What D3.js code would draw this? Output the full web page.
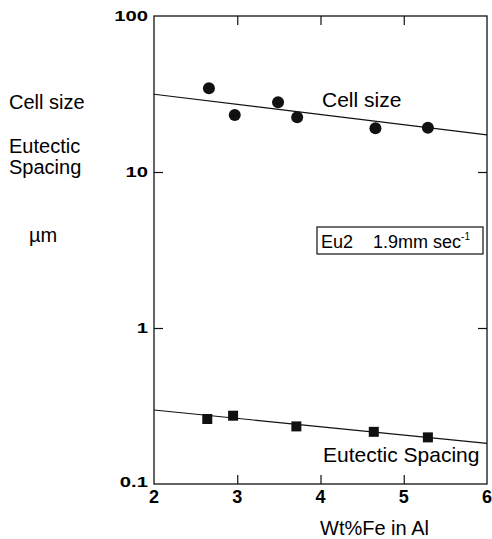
<!DOCTYPE html>
<html>
<head>
<meta charset="utf-8">
<script src="https://cdn.jsdelivr.net/npm/d3@7"></script>
<style>
  body { margin: 0; background: #fff; }
  svg { font-family: "Liberation Sans", Arial, sans-serif; }
</style>
</head>
<body>
<div id="chart"></div>
<script>
// data
const cellFe = [2.66, 2.97, 3.49, 3.72, 4.66, 5.29];
const cellSize = [34.4, 23.2, 28.0, 22.4, 19.1, 19.2];
const cellFit = [[2, 31.5], [6, 17.3]];

const eutFe = [2.64, 2.95, 3.71, 4.64, 5.29];
const eutSpacing = [0.261, 0.274, 0.234, 0.216, 0.199];
const eutFit = [[2, 0.298], [6, 0.182]];

const xTicks = [2, 3, 4, 5, 6];
const yTicks = [0.1, 1, 10, 100];
const yTickLabels = ["0.1", "1", "10", "100"];

// dimensions
const W = 492, H = 539;
const plot = {left: 154, right: 487, top: 16, bottom: 484};

const svg = d3.select("#chart").append("svg")
  .attr("width", W)
  .attr("height", H);

const x = d3.scaleLinear().domain([2, 6]).range([plot.left, plot.right]);
const y = d3.scaleLog().domain([0.1, 100]).range([plot.bottom, plot.top]);

// frame
svg.append("rect")
  .attr("x", plot.left).attr("y", plot.top)
  .attr("width", plot.right - plot.left)
  .attr("height", plot.bottom - plot.top)
  .attr("fill", "none").attr("stroke", "#111").attr("stroke-width", 1.3);

// inward ticks (bottom + top)
const tickLen = 9;
svg.append("g")
  .attr("transform", `translate(0,${plot.bottom})`)
  .call(d3.axisTop(x).tickValues([3, 4, 5]).tickSize(tickLen).tickFormat(""))
  .call(g => g.select(".domain").remove());
svg.append("g")
  .attr("transform", `translate(0,${plot.top})`)
  .call(d3.axisBottom(x).tickValues([3, 4, 5]).tickSize(tickLen).tickFormat(""))
  .call(g => g.select(".domain").remove());
svg.append("g")
  .attr("transform", `translate(${plot.left},0)`)
  .call(d3.axisRight(y).tickValues([1, 10]).tickSize(tickLen).tickFormat(""))
  .call(g => g.select(".domain").remove());
svg.append("g")
  .attr("transform", `translate(${plot.right},0)`)
  .call(d3.axisLeft(y).tickValues([1, 10]).tickSize(tickLen).tickFormat(""))
  .call(g => g.select(".domain").remove());
svg.selectAll(".tick line").attr("stroke", "#111").attr("stroke-width", 1.2);

// tick labels
svg.append("g").selectAll("text")
  .data(xTicks)
  .enter().append("text")
  .attr("x", d => x(d))
  .attr("y", plot.bottom + 19)
  .attr("text-anchor", "middle")
  .attr("font-size", 18).attr("font-weight", "bold")
  .text(d => d);

// y labels are wide and squat in the original, so stretch them sideways
svg.append("g").selectAll("text")
  .data(yTicks)
  .enter().append("text")
  .attr("transform", d => `translate(${plot.left - 6},${y(d) + (d === 0.1 ? 3 : 5)}) scale(1.35,1)`)
  .attr("text-anchor", "end")
  .attr("font-size", 15).attr("font-weight", "bold")
  .text((d, i) => yTickLabels[i]);

// fitted lines
const line = d3.line().x(d => x(d[0])).y(d => y(d[1]));
svg.append("path").attr("d", line(cellFit))
  .attr("fill", "none").attr("stroke", "#111").attr("stroke-width", 1.2);
svg.append("path").attr("d", line(eutFit))
  .attr("fill", "none").attr("stroke", "#111").attr("stroke-width", 1.2);

// points
svg.append("g").selectAll("circle")
  .data(cellFe)
  .enter().append("circle")
  .attr("cx", d => x(d))
  .attr("cy", (d, i) => y(cellSize[i]))
  .attr("r", 6)
  .attr("fill", "#111");

const sq = 10;
svg.append("g").selectAll("rect")
  .data(eutFe)
  .enter().append("rect")
  .attr("x", d => x(d) - sq / 2)
  .attr("y", (d, i) => y(eutSpacing[i]) - sq / 2)
  .attr("width", sq).attr("height", sq)
  .attr("fill", "#111");

// in-plot labels
svg.append("text").attr("x", 322).attr("y", 107)
  .attr("font-size", 21).text("Cell size");
svg.append("text").attr("x", 323).attr("y", 462)
  .attr("font-size", 21).text("Eutectic  Spacing");

// condition box
svg.append("rect")
  .attr("x", 317).attr("y", 227).attr("width", 166).attr("height", 27)
  .attr("fill", "none").attr("stroke", "#111").attr("stroke-width", 1.2);
const boxText = svg.append("text").attr("x", 321).attr("y", 248)
  .attr("font-size", 18);
boxText.append("tspan").text("Eu2");
boxText.append("tspan").attr("dx", 20).text("1.9mm sec");
boxText.append("tspan").attr("dy", -8).attr("font-size", 10).text("-1");

// left axis labels
const leftLab = svg.append("g").attr("font-size", 20);
leftLab.append("text").attr("x", 9).attr("y", 109).text("Cell size");
leftLab.append("text").attr("x", 9).attr("y", 153).text("Eutectic");
leftLab.append("text").attr("x", 9).attr("y", 174).text("Spacing");
leftLab.append("text").attr("x", 29).attr("y", 242).text("\u00b5m");

// x axis title
svg.append("text").attr("x", 320).attr("y", 535)
  .attr("font-size", 20).text("Wt%Fe in Al");
</script>
</body>
</html>
